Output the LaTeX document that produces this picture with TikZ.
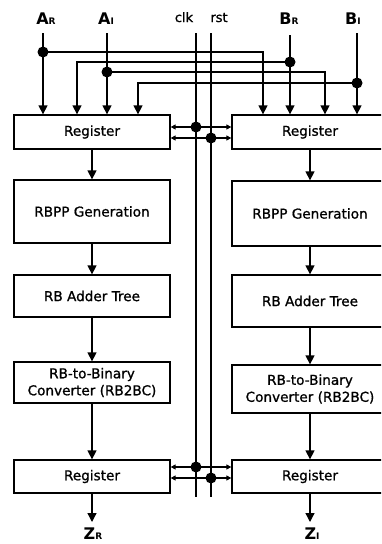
\documentclass[tikz,border=0pt]{standalone}
\usepackage{fontspec}
\setmainfont{DejaVu Sans}
\newfontfamily\boxfont{DejaVu Sans}[FakeBold=1.0]
\usetikzlibrary{arrows.meta}
\tikzset{
  x=1pt, y=-1pt,
  line/.style={line width=1.3pt},
  blk/.style={draw, line width=1.3pt, minimum width=156pt, inner sep=0pt, align=center, font=\boxfont\fontsize{13.6}{17}\selectfont},
  arr/.style={line, -{Triangle[width=9pt,length=9pt]}},
  sarr/.style={line, {Triangle[width=5pt,length=5pt]}-{Triangle[width=5pt,length=5pt]}},
  lbl/.style={anchor=base, inner sep=0pt},
  dot/.style={circle, fill, inner sep=0pt, minimum size=11pt}
}
\newcommand{\siglbl}[2]{{\bfseries\fontsize{16}{18}\selectfont #1}{\bfseries\fontsize{9}{10}\selectfont #2}}
\begin{document}
\begin{tikzpicture}
\useasboundingbox (0,0) rectangle (381,544);
\clip (0,0) rectangle (381,544);
% left column
\node[blk, minimum height=34pt] (L1) at (92,132) {Register};
\node[blk, minimum height=63pt] (L2) at (92,211.5) {RBPP Generation};
\node[blk, minimum height=42pt] (L3) at (92,296) {RB Adder Tree};
\node[blk, minimum height=41pt] (L4) at (92,382.5) {RB-to-Binary\\Converter (RB2BC)};
\node[blk, minimum height=33pt] (L5) at (92,476.5) {Register};
% right column
\node[blk, minimum height=34pt] (R1) at (310,132) {Register};
\node[blk, minimum height=65pt] (R2) at (310,213.5) {RBPP Generation};
\node[blk, minimum height=52pt] (R3) at (310,301) {RB Adder Tree};
\node[blk, minimum height=48pt] (R4) at (310,389) {RB-to-Binary\\Converter (RB2BC)};
\node[blk, minimum height=33pt] (R5) at (310,476.5) {Register};
% pipeline arrows
\draw[arr] (L1) -- (L2);
\draw[arr] (L2) -- (L3);
\draw[arr] (L3) -- (L4);
\draw[arr] (L4) -- (L5);
\draw[arr] (R1) -- (R2);
\draw[arr] (R2) -- (R3);
\draw[arr] (R3) -- (R4);
\draw[arr] (R4) -- (R5);
% outputs
\coordinate (zR) at (92,522);
\coordinate (zI) at (310,522);
\draw[arr] (L5) -- (zR);
\draw[arr] (R5) -- (zI);
\node[lbl] (zRl) at (93,539) {\siglbl{Z}{R}};
\node[lbl] (zIl) at (312,539) {\siglbl{Z}{I}};
% input labels
\node[lbl] (aRl) at (46,24) {\siglbl{A}{R}};
\node[lbl] (aIl) at (106,24) {\siglbl{A}{I}};
\node[lbl] (bRl) at (289,24) {\siglbl{B}{R}};
\node[lbl] (bIl) at (353,24) {\siglbl{B}{I}};
\node[lbl, font=\boxfont\fontsize{13}{15}\selectfont] (clkl) at (184,22) {clk};
\node[lbl, font=\boxfont\fontsize{13}{15}\selectfont] (rstl) at (219,22) {rst};
% input lines
\coordinate (aRt) at (43,33);
\coordinate (aIt) at (107,33);
\coordinate (bRt) at (290,35);
\coordinate (bIt) at (357,33);
\coordinate (aRd) at (43,52);
\coordinate (bRd) at (290,62);
\coordinate (aId) at (107,72);
\coordinate (bId) at (357,83);
\draw[arr] (aRt) -- (aRt |- L1.north);
\draw[arr] (aIt) -- (aIt |- L1.north);
\draw[arr] (bRt) -- (bRt |- R1.north);
\draw[arr] (bIt) -- (bIt |- R1.north);
\coordinate (xaR) at (263,0);
\coordinate (xbR) at (77,0);
\coordinate (xaI) at (325,0);
\coordinate (xbI) at (138,0);
\draw[arr] (aRd) -| (xaR |- R1.north);
\draw[arr] (bRd) -| (xbR |- L1.north);
\draw[arr] (aId) -| (xaI |- R1.north);
\draw[arr] (bId) -| (xbI |- L1.north);
\node[dot] (daR) at (aRd) {};
\node[dot] (dbR) at (bRd) {};
\node[dot] (daI) at (aId) {};
\node[dot] (dbI) at (bId) {};
% clk / rst
\coordinate (clkt) at (196,33);
\coordinate (clkb) at (196,497);
\coordinate (rstt) at (211,33);
\coordinate (rstb) at (211,497);
\draw[line] (clkt) -- (clkb);
\draw[line] (rstt) -- (rstb);
\coordinate (c1) at (196,127);
\coordinate (r1) at (211,138);
\coordinate (c2) at (196,467);
\coordinate (r2) at (211,478);
\draw[sarr] (L1.east |- c1) -- (R1.west |- c1);
\draw[sarr] (L1.east |- r1) -- (R1.west |- r1);
\draw[sarr] (L5.east |- c2) -- (R5.west |- c2);
\draw[sarr] (L5.east |- r2) -- (R5.west |- r2);
\node[dot] (dc1) at (c1) {};
\node[dot] (dr1) at (r1) {};
\node[dot] (dc2) at (c2) {};
\node[dot] (dr2) at (r2) {};
\end{tikzpicture}
\end{document}
